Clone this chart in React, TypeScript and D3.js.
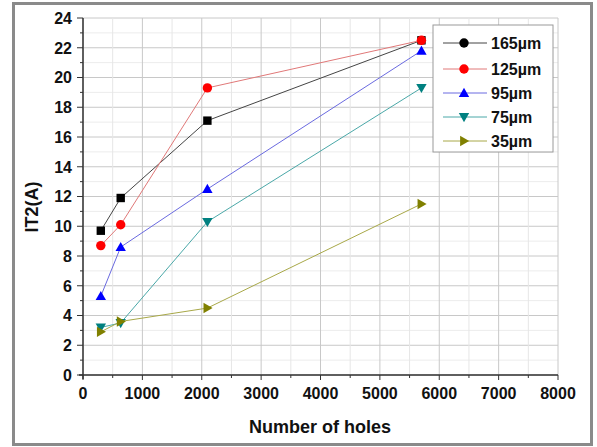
import * as d3 from 'd3';

const holes = [300, 635, 2095, 5700];

const s165 = [9.7, 11.9, 17.1, 22.5];
const s125 = [8.7, 10.1, 19.3, 22.5];
const s95 = [5.3, 8.6, 12.5, 21.8];
const s75 = [3.2, 3.5, 10.3, 19.3];
const s35 = [2.9, 3.6, 4.5, 11.5];

const seriesNames = ['165µm', '125µm', '95µm', '75µm', '35µm'];
const seriesValues = [s165, s125, s95, s75, s35];
const lineColors = ['#444444', '#e07878', '#6a6ae0', '#4aa8a8', '#a8a848'];
const markColors = ['#000000', '#ff0000', '#0000ff', '#008080', '#808000'];
const markShapes = ['square', 'circle', 'up', 'down', 'right'];

const xTicks = [0, 1000, 2000, 3000, 4000, 5000, 6000, 7000, 8000];
const yTicks = [0, 2, 4, 6, 8, 10, 12, 14, 16, 18, 20, 22, 24];

const W = 597;
const H = 447;
const left = 83;
const right = 558;
const top = 18;
const bottom = 375;

function Marker({ shape, x, y, color }: { shape: string; x: number; y: number; color: string }) {
  const r = 4.2;
  if (shape === 'square') return <rect x={x - r} y={y - r} width={r * 2} height={r * 2} fill={color} />;
  if (shape === 'circle') return <circle cx={x} cy={y} r={r + 0.5} fill={color} />;
  let pts: [number, number][] = [];
  const s = 5.2;
  if (shape === 'up') pts = [[x, y - s], [x + s, y + s * 0.75], [x - s, y + s * 0.75]];
  if (shape === 'down') pts = [[x, y + s], [x + s, y - s * 0.75], [x - s, y - s * 0.75]];
  if (shape === 'right') pts = [[x + s, y], [x - s * 0.75, y - s], [x - s * 0.75, y + s]];
  return <polygon points={pts.map((p) => p.join(',')).join(' ')} fill={color} />;
}

export default function App() {
  const x = d3.scaleLinear().domain([0, 8000]).range([left, right]);
  const y = d3.scaleLinear().domain([0, 24]).range([bottom, top]);
  const line = d3
    .line<number>()
    .x((_, i) => x(holes[i]))
    .y((d) => y(d));

  const xMinor = d3.range(0, 8001, 500);
  const yMinor = d3.range(0, 25, 1);
  const font = 'Arial, "Liberation Sans", sans-serif';

  const legendRows = [43, 69, 93, 117, 141];

  return (
    <svg width={W} height={H} style={{ position: 'absolute', left: 0, top: 0 }}>
      <rect x={0} y={0} width={W} height={H} fill="#ffffff" />
      <rect x={13.5} y={3.5} width={578} height={441} fill="#ffffff" stroke="#8a8a8a" strokeWidth={3} />

      {/* grid */}
      {yMinor.map((v) => (
        <line key={'gy' + v} x1={left} x2={right} y1={y(v)} y2={y(v)} stroke={v % 2 === 0 ? '#c8c8c8' : '#ececec'} strokeWidth={1} />
      ))}
      {xMinor.map((v) => (
        <line key={'gx' + v} x1={x(v)} x2={x(v)} y1={top} y2={bottom} stroke={v % 1000 === 0 ? '#c8c8c8' : '#e6e6e6'} strokeWidth={1} />
      ))}

      {/* axes */}
      <line x1={left} x2={left} y1={top} y2={bottom + 4} stroke="#333" strokeWidth={1.5} />
      <line x1={left - 4} x2={right} y1={bottom} y2={bottom} stroke="#333" strokeWidth={1.5} />
      {yMinor.map((v) => (
        <line key={'ty' + v} x1={left - (v % 2 === 0 ? 6 : 3)} x2={left} y1={y(v)} y2={y(v)} stroke="#333" strokeWidth={1} />
      ))}
      {xMinor.map((v) => (
        <line key={'tx' + v} x1={x(v)} x2={x(v)} y1={bottom} y2={bottom + (v % 1000 === 0 ? 5 : 3)} stroke="#333" strokeWidth={1} />
      ))}
      {yTicks.map((v) => (
        <text key={'ly' + v} x={left - 11} y={y(v)} dy="0.36em" textAnchor="end" fontFamily={font} fontWeight="bold" fontSize={16} fill="#111">
          {v}
        </text>
      ))}
      {xTicks.map((v) => (
        <text key={'lx' + v} x={x(v)} y={bottom + 18} dy="0.36em" textAnchor="middle" fontFamily={font} fontWeight="bold" fontSize={16} fill="#111">
          {v}
        </text>
      ))}
      <text x={320} y={427} dy="0.36em" textAnchor="middle" fontFamily={font} fontWeight="bold" fontSize={18} fill="#111">
        Number of holes
      </text>
      <text transform="translate(32,207) rotate(-90)" dy="0.36em" textAnchor="middle" fontFamily={font} fontWeight="bold" fontSize={18} fill="#111">
        IT2(A)
      </text>

      {/* series */}
      {seriesValues.map((vals, si) => (
        <g key={'s' + si}>
          <path d={line(vals) || ''} fill="none" stroke={lineColors[si]} strokeWidth={1} />
          {vals.map((v, i) => (
            <Marker key={i} shape={markShapes[si]} x={x(holes[i])} y={y(v)} color={markColors[si]} />
          ))}
        </g>
      ))}

      {/* legend */}
      <rect x={433} y={25} width={120} height={127} fill="#ffffff" stroke="#9a9a9a" strokeWidth={1} />
      {seriesNames.map((name, i) => (
        <g key={'lg' + i}>
          <line x1={443} x2={487} y1={legendRows[i]} y2={legendRows[i]} stroke={lineColors[i]} strokeWidth={1} />
          <Marker shape={i === 0 ? 'circle' : markShapes[i]} x={464} y={legendRows[i]} color={markColors[i]} />
          <text x={491} y={legendRows[i]} dy="0.36em" fontFamily={font} fontWeight="bold" fontSize={16} fill="#111">
            {name}
          </text>
        </g>
      ))}
    </svg>
  );
}
